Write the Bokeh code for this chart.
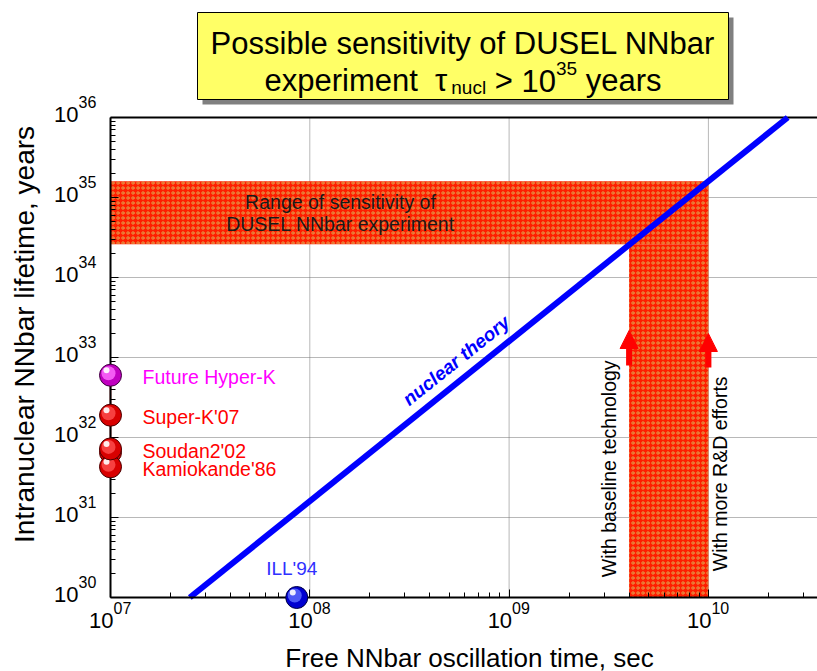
import math
from bokeh.plotting import figure
from bokeh.models import (Range1d, FixedTicker, CustomJSTickFormatter, Label,
                          Arrow, NormalHead)
from bokeh.embed import file_html
from bokeh.resources import INLINE

# ---------------- data ----------------
# nuclear theory line (tau_nucl ~ tau_free^2)
theory_tau_free = [2.5e7, 2.5e10]
theory_tau_nucl = [1e30, 1e36]

# intranuclear experiments (plotted at the left axis)
exp_names = ["Frejus'90", "Kamiokande'86", "Soudan2'02", "Super-K'07", "Future Hyper-K"]
exp_labels = ["", "Kamiokande'86", "Soudan2'02", "Super-K'07", "Future Hyper-K"]
exp_tau_nucl = [6.5e31, 4.3e31, 7.2e31, 1.9e32, 6.0e32]
exp_tau_free = [1e7, 1e7, 1e7, 1e7, 1e7]
exp_kind = ["red", "red", "red", "red", "magenta"]

# free neutron experiment
ill_tau_free = [8.6e7]
ill_tau_nucl = [1e30]
ill_label = "ILL'94"

# DUSEL sensitivity range
range_tau_nucl = [2.6e34, 1.6e35]
range_tau_free = [4e9, 1e10]

x_ticks = [1e7, 1e8, 1e9, 1e10]
x_tick_exp = ["07", "08", "09", "10"]
y_ticks = [1e30, 1e31, 1e32, 1e33, 1e34, 1e35, 1e36]
y_tick_exp = ["30", "31", "32", "33", "34", "35", "36"]

# ---------------- layout helpers ----------------
W, H = 817, 671
XDEC, YDEC = 199.3, 80.0
FONT = "Liberation Sans"


def X(px):  # page pixel -> data x
    return 10 ** (7 + (px - 110) / XDEC)


def Y(py):  # page pixel -> data y
    return 10 ** (36 - (py - 117) / YDEC)


XMAX = X(W)

p = figure(width=W, height=H, x_axis_type="log", y_axis_type="log",
           x_range=Range1d(X(0), XMAX), y_range=Range1d(Y(H), Y(0)),
           output_backend="svg", toolbar_location=None, min_border=0,
           outline_line_color=None, background_fill_color="white",
           border_fill_color="white")
p.xgrid.visible = False
p.ygrid.visible = False

x_minor = [k * 10 ** n for n in range(7, 11) for k in range(2, 10) if k * 10 ** n < XMAX]
y_minor = [k * 10 ** n for n in range(30, 36) for k in range(2, 10)]

for ax, loc, ticks, minor, bnds in [(p.xaxis[0], 1e30, x_ticks, x_minor, (1e7, XMAX)),
                                    (p.yaxis[0], 1e7, y_ticks, y_minor, (1e30, 1e36))]:
    ax.fixed_location = loc
    ax.bounds = bnds
    ax.ticker = FixedTicker(ticks=ticks, minor_ticks=minor)
    ax.formatter = CustomJSTickFormatter(code="return ''")
    ax.major_label_standoff = 0
    ax.axis_line_color = "black"
    ax.axis_line_width = 2
    ax.major_tick_in = 8
    ax.major_tick_out = 0
    ax.minor_tick_in = 5
    ax.minor_tick_out = 0
    ax.major_tick_line_color = "black"
    ax.minor_tick_line_color = "black"

# grid lines (dotted)
gx = x_ticks[1:]
p.segment(x0=gx, y0=[y_ticks[0]] * len(gx), x1=gx, y1=[y_ticks[-1]] * len(gx),
          line_color="#707070", line_dash="1 1", line_width=1)
gy = y_ticks[1:-1]
p.segment(x0=[x_ticks[0]] * len(gy), y0=gy, x1=[XMAX] * len(gy), y1=gy,
          line_color="#707070", line_dash="1 1", line_width=1)
p.segment(x0=[x_ticks[0]], y0=[y_ticks[-1]], x1=[XMAX], y1=[y_ticks[-1]],
          line_color="black", line_width=2)

# sensitivity bands
band_kw = dict(fill_color="#ff1e00", line_color=None, hatch_pattern="ring",
               hatch_color="#d4d46a", hatch_scale=5, hatch_weight=1, hatch_alpha=0.65)
p.quad(left=[x_ticks[0]], right=[range_tau_free[1]], bottom=[range_tau_nucl[0]],
       top=[range_tau_nucl[1]], **band_kw)
p.quad(left=[range_tau_free[0]], right=[range_tau_free[1]], bottom=[y_ticks[0]],
       top=[range_tau_nucl[0]], **band_kw)

# nuclear theory
p.line(theory_tau_free, theory_tau_nucl, line_color="#0000ff", line_width=6)

# arrows
for xa, ys, ye in [(range_tau_free[0], Y(365), Y(330)), (range_tau_free[1], Y(367), Y(333))]:
    p.add_layout(Arrow(x_start=xa, y_start=ys, x_end=xa, y_end=ye, line_color="red",
                       line_width=6, end=NormalHead(size=18, fill_color="red",
                                                    line_color="red", line_width=1)))

# connecting line of experiments
p.line([exp_tau_free[0]] * 2, [min(exp_tau_nucl), max(exp_tau_nucl)],
       line_color="#b00000", line_width=1.5)


def shift(xs, ys, dx, dy):
    return ([x * 10 ** (dx / XDEC) for x in xs], [y * 10 ** (-dy / YDEC) for y in ys])


palette = {"red": ("#d80000", "#ff5050", "#4a0000"),
           "magenta": ("#c000c0", "#ff70ff", "#400040"),
           "blue": ("#0000d0", "#6070ff", "#000040")}


def spheres(xs, ys, kinds):
    for x, y, k in zip(xs, ys, kinds):
        base, light, edge = palette[k]
        r = p.scatter([x], [y], size=22, fill_color=base, line_color=edge, line_width=1)
        r.level = "overlay"
        lx, ly = shift([x], [y], -2, -2)
        r = p.scatter(lx, ly, size=14, fill_color=light, line_color=None, fill_alpha=0.8)
        r.level = "overlay"
        hx, hy = shift([x], [y], -4, -5)
        r = p.scatter(hx, hy, size=6, fill_color="white", line_color=None, fill_alpha=0.9)
        r.level = "overlay"


spheres(exp_tau_free, exp_tau_nucl, exp_kind)
spheres(ill_tau_free, ill_tau_nucl, ["blue"])


def lab(x, y, text, size, color="black", align="left", baseline="middle", angle=0.0,
        xo=0, yo=0, style="normal"):
    p.add_layout(Label(x=x, y=y, text=text, text_font=FONT, text_font_size=f"{size}px",
                       text_color=color, text_align=align, text_baseline=baseline,
                       angle=angle, x_offset=xo, y_offset=yo, text_font_style=style))


# experiment labels
for x, y, t, k in zip(exp_tau_free, exp_tau_nucl, exp_labels, exp_kind):
    if t:
        lab(x, y, t, 19.5, "#ff00ff" if k == "magenta" else "#ff0000", xo=32, yo=-2)
lab(ill_tau_free[0], ill_tau_nucl[0], ill_label, 19, "#3030ff", align="center", xo=-5, yo=29)

# tick labels
for t, e in zip(x_ticks, x_tick_exp):
    lab(t, y_ticks[0], "10", 22, align="right", xo=3, yo=-22.5)
    lab(t, y_ticks[0], e, 16, align="left", xo=3, yo=-10)
for t, e in zip(y_ticks, y_tick_exp):
    lab(x_ticks[0], t, "10", 22, align="right", xo=-32, yo=3)
    lab(x_ticks[0], t, e, 16, align="left", xo=-32, yo=16)

# axis titles
lab(X(469), Y(657), "Free NNbar oscillation time, sec", 26, align="center")
lab(X(24), Y(334), "Intranuclear NNbar lifetime, years", 28, align="center", angle=math.pi / 2)

# in-plot annotations
lab(X(340), Y(201.5), "Range of sensitivity of", 19.5, "#1a1a1a", align="center")
lab(X(340), Y(223), "DUSEL NNbar experiment", 19.5, "#1a1a1a", align="center")
lab(X(455.7), Y(360), "nuclear theory", 19, "#0000ff", align="center",
    angle=math.atan(2 * YDEC / XDEC), style="bold italic")
lab(X(608.3), Y(468.3), "With baseline technology", 19.5, align="center", angle=math.pi / 2)
lab(X(719), Y(473.3), "With more R&D efforts", 19.5, align="center", angle=math.pi / 2)

# title box
p.quad(left=[X(202)], right=[X(733)], top=[Y(17)], bottom=[Y(104)],
       fill_color="#808080", line_color=None)
p.quad(left=[X(197)], right=[X(728)], top=[Y(12)], bottom=[Y(99)],
       fill_color="#ffff66", line_color="black", line_width=1)

AW = {' ': 278, 'e': 556, 'x': 500, 'p': 556, 'r': 333, 'i': 222, 'm': 833, 'n': 556,
      't': 278, 'u': 556, 'c': 500, 'l': 222, '>': 584, '1': 556, '0': 556, '3': 556,
      '5': 556, 'y': 500, 'a': 556, 's': 500, 'τ': 520}


def tw(s, size):
    return sum(AW[c] for c in s) / 1000 * size


lab(X(462.5), Y(43), "Possible sensitivity of DUSEL NNbar", 31, align="center",
    baseline="alphabetic")
segs = [("experiment", 31, 0, 2), ("τ", 31, 0, 0), ("nucl", 19, -7, 1), (">", 31, 0, 1),
        ("10", 31, 0, 0), ("35", 19, 12, 1), ("years", 31, 0, 0)]
total = sum(tw(s, sz) + g * tw(" ", 31) for s, sz, _, g in segs)
cur = 462.5 - total / 2
for s, sz, dy, g in segs:
    lab(X(cur), Y(80), s, sz, align="left", baseline="alphabetic", yo=dy)
    cur += tw(s, sz) + g * tw(" ", 31)

open("out.html", "w").write(file_html(p, INLINE))
